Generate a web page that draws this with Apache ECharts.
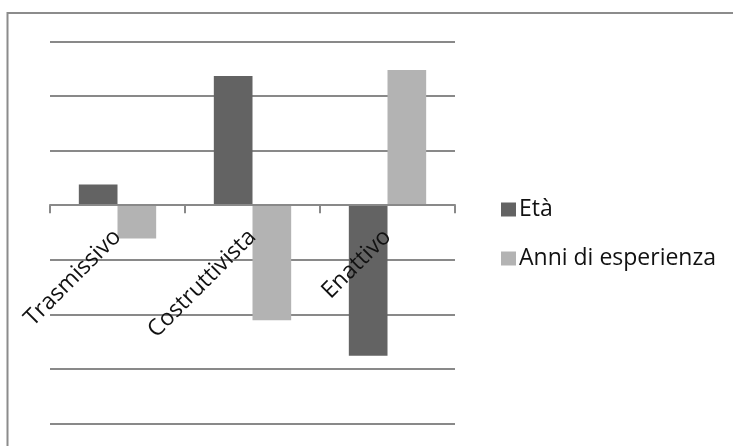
<!DOCTYPE html>
<html>
<head>
<meta charset="utf-8">
<script src="https://cdn.jsdelivr.net/npm/echarts@6/dist/echarts.min.js"></script>
<style>
  html, body { margin: 0; padding: 0; background: #ffffff; }
  #chart { width: 733px; height: 446px; }
</style>
</head>
<body>
<div id="chart"></div>
<script>
// Teaching approaches and their relation to age / years of experience
const categories = ['Trasmissivo', 'Costruttivista', 'Enattivo'];
const seriesNames = ['Età', 'Anni di esperienza'];
const etaValues = [0.38, 2.37, -2.76];
const anniValues = [-0.61, -2.11, 2.48];

const FONT = '"Open Sans", "Noto Sans", sans-serif';
const GRID_COLOR = '#898989';

// plot area and value range
const GRID_TOP = 41.7;
const GRID_BOTTOM = 22.7;
const Y_MIN = -4;
const Y_MAX = 3;
const CHART_H = 446;
const plotH = CHART_H - GRID_TOP - GRID_BOTTOM;
// distance from the plot bottom up to the zero line, so the category axis sits on zero
const zeroLift = plotH * (0 - Y_MIN) / (Y_MAX - Y_MIN);

const chart = echarts.init(document.getElementById('chart'), null, { renderer: 'canvas' });

chart.setOption({
  animation: false,
  backgroundColor: '#ffffff',
  graphic: [{
    type: 'rect',
    shape: { x: 7.5, y: 13, width: 760, height: 460 },
    style: { fill: 'none', stroke: '#8c8c8c', lineWidth: 2 },
    silent: true,
    z: -1
  }],
  grid: {
    left: 50, right: 278, top: GRID_TOP, bottom: GRID_BOTTOM,
    containLabel: false,
    outerBoundsMode: 'none'
  },
  legend: {
    orient: 'vertical',
    left: 496,
    top: 193,
    itemWidth: 15,
    itemHeight: 14,
    itemGap: 26,
    icon: 'rect',
    textStyle: { fontFamily: FONT, fontSize: 23, color: '#111111', padding: [0, 0, 0, -2] },
    data: seriesNames
  },
  xAxis: {
    type: 'category',
    data: categories,
    position: 'bottom',
    offset: -zeroLift,
    axisLine: { onZero: false, lineStyle: { color: GRID_COLOR, width: 2 } },
    axisTick: { show: true, alignWithLabel: false, length: 8, lineStyle: { color: GRID_COLOR, width: 2 } },
    axisLabel: {
      rotate: 45,
      margin: 28,
      fontFamily: FONT,
      fontSize: 23,
      color: '#111111',
      interval: 0
    },
    splitLine: { show: false },
    z: 5
  },
  yAxis: {
    type: 'value',
    min: Y_MIN,
    max: Y_MAX,
    interval: 1,
    axisLine: { show: false },
    axisTick: { show: false },
    axisLabel: { show: false },
    splitLine: { lineStyle: { color: GRID_COLOR, width: 2 } }
  },
  series: [
    {
      name: seriesNames[0],
      type: 'bar',
      data: etaValues,
      barGap: '0%',
      barCategoryGap: '42.7%',
      itemStyle: { color: '#636363' },
      z: 3
    },
    {
      name: seriesNames[1],
      type: 'bar',
      data: anniValues,
      itemStyle: { color: '#b3b3b3' },
      z: 3
    }
  ]
});
</script>
</body>
</html>
